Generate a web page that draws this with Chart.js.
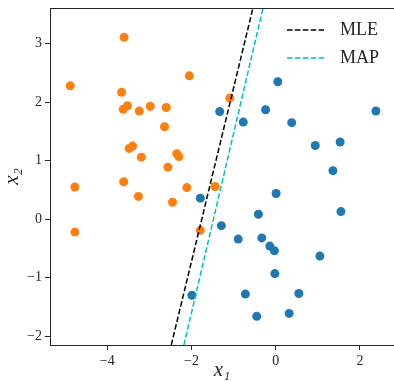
<!DOCTYPE html>
<html lang="en">
<head>
    <meta charset="UTF-8">
    <title>MLE vs MAP</title>
    <script src="https://cdn.jsdelivr.net/npm/chart.js"></script>
    <style>
        body { margin: 0; background: #fff; }
        canvas { display: block; }
    </style>
</head>
<body>
    <canvas id="chart" width="394" height="381"></canvas>

    <script>
        // class 0 (blue) and class 1 (orange) samples
        const blueX = [-1.33, 0.05, -0.24, -0.77, 0.38, 2.38, 0.94, 1.53, 1.36, 0.01, -1.79, 1.55, -0.41,
                       -1.29, -0.89, -0.33, -0.14, -0.03, 1.05, -0.02, -1.99, -0.72, 0.55, -0.45, 0.32];
        const blueY = [1.84, 2.35, 1.87, 1.66, 1.65, 1.85, 1.26, 1.32, 0.83, 0.44, 0.36, 0.13, 0.085,
                       -0.11, -0.34, -0.32, -0.46, -0.54, -0.63, -0.93, -1.30, -1.28, -1.27, -1.66, -1.61];
        const orangeX = [-4.88, -3.60, -3.66, -3.62, -3.52, -3.24, -2.98, -2.60, -2.64, -2.05, -1.09, -3.48, -3.40,
                         -3.19, -2.35, -2.30, -2.56, -4.77, -3.61, -3.26, -2.45, -2.11, -1.44, -4.77, -1.79];
        const orangeY = [2.28, 3.11, 2.17, 1.88, 1.94, 1.85, 1.93, 1.91, 1.58, 2.45, 2.07, 1.21, 1.25,
                         1.06, 1.12, 1.07, 0.89, 0.55, 0.64, 0.39, 0.29, 0.54, 0.56, -0.22, -0.19];

        // decision boundaries
        const mleX = [-2.48, -0.54];
        const mleY = [-2.15, 3.61];
        const mapX = [-2.18, -0.30];
        const mapY = [-2.15, 3.61];

        const xTicks = [-4, -2, 0, 2];
        const yTicks = [-2, -1, 0, 1, 2, 3];

        const serif = '"Liberation Serif", "DejaVu Serif", serif';
        const ink = '#262626';

        const pts = (xs, ys) => xs.map((x, i) => ({x: x, y: ys[i]}));
        const fmt = v => v < 0 ? '\u2212' + Math.abs(v) : String(v);

        // top spine + legend drawn by hand
        const extras = {
            id: 'extras',
            afterDraw(chart) {
                const c = chart.ctx, a = chart.chartArea;
                c.save();
                c.strokeStyle = ink;
                c.lineWidth = 1;
                c.beginPath();
                c.moveTo(a.left, a.top + 0.5);
                c.lineTo(a.right, a.top + 0.5);
                c.stroke();

                const items = [['MLE', '#000000', 30], ['MAP', '#00bfbf', 58]];
                c.font = '18px ' + serif;
                c.textBaseline = 'middle';
                c.fillStyle = ink;
                items.forEach(([label, col, y]) => {
                    c.strokeStyle = col;
                    c.lineWidth = 1.5;
                    c.setLineDash([5.5, 2.4]);
                    c.beginPath();
                    c.moveTo(287, y);
                    c.lineTo(326, y);
                    c.stroke();
                    c.setLineDash([]);
                    c.fillText(label, 340, y);
                });
                c.restore();
            }
        };

        const axisCommon = {
            type: 'linear',
            grid: { display: true, drawOnChartArea: false, drawTicks: true, tickLength: 5, tickColor: ink },
            border: { display: true, color: ink, width: 1 },
            ticks: { color: ink, font: { family: serif, size: 14 }, callback: fmt, padding: 3 }
        };

        new Chart(document.getElementById('chart'), {
            type: 'scatter',
            data: {
                datasets: [
                    { type: 'line', label: 'MLE', data: pts(mleX, mleY), borderColor: '#000000', borderWidth: 1.5,
                      borderDash: [5.5, 2.4], pointRadius: 0, fill: false, order: 0 },
                    { type: 'line', label: 'MAP', data: pts(mapX, mapY), borderColor: '#00bfbf', borderWidth: 1.5,
                      borderDash: [5.5, 2.4], pointRadius: 0, fill: false, order: 0 },
                    { label: 'class 0', data: pts(blueX, blueY), backgroundColor: '#1f77b4', borderWidth: 0,
                      pointRadius: 4.5, order: 1 },
                    { label: 'class 1', data: pts(orangeX, orangeY), backgroundColor: '#ff7f0e', borderWidth: 0,
                      pointRadius: 4.5, order: 1 }
                ]
            },
            options: {
                responsive: false,
                animation: false,
                devicePixelRatio: 1,
                layout: { autoPadding: false, padding: { top: 8, right: 0, left: 0, bottom: 0 } },
                plugins: { legend: { display: false }, tooltip: { enabled: false } },
                scales: {
                    x: Object.assign({}, axisCommon, {
                        min: -5.36, max: 2.81,
                        afterBuildTicks: s => { s.ticks = xTicks.map(v => ({value: v})); },
                        afterFit: s => { s.height = 36; s.paddingLeft = 0; s.paddingRight = 0; },
                        title: { display: true, text: 'x\u2081', color: ink, padding: 0,
                                 font: { family: serif, size: 21, style: 'italic', lineHeight: 1 } }
                    }),
                    y: Object.assign({}, axisCommon, {
                        min: -2.15, max: 3.61,
                        afterBuildTicks: s => { s.ticks = yTicks.map(v => ({value: v})); },
                        afterFit: s => { s.width = 50; s.paddingTop = 0; s.paddingBottom = 0; },
                        title: { display: true, text: 'x\u2082', color: ink, padding: 2,
                                 font: { family: serif, size: 21, style: 'italic', lineHeight: 1 } }
                    })
                }
            },
            plugins: [extras]
        });
    </script>
</body>
</html>
